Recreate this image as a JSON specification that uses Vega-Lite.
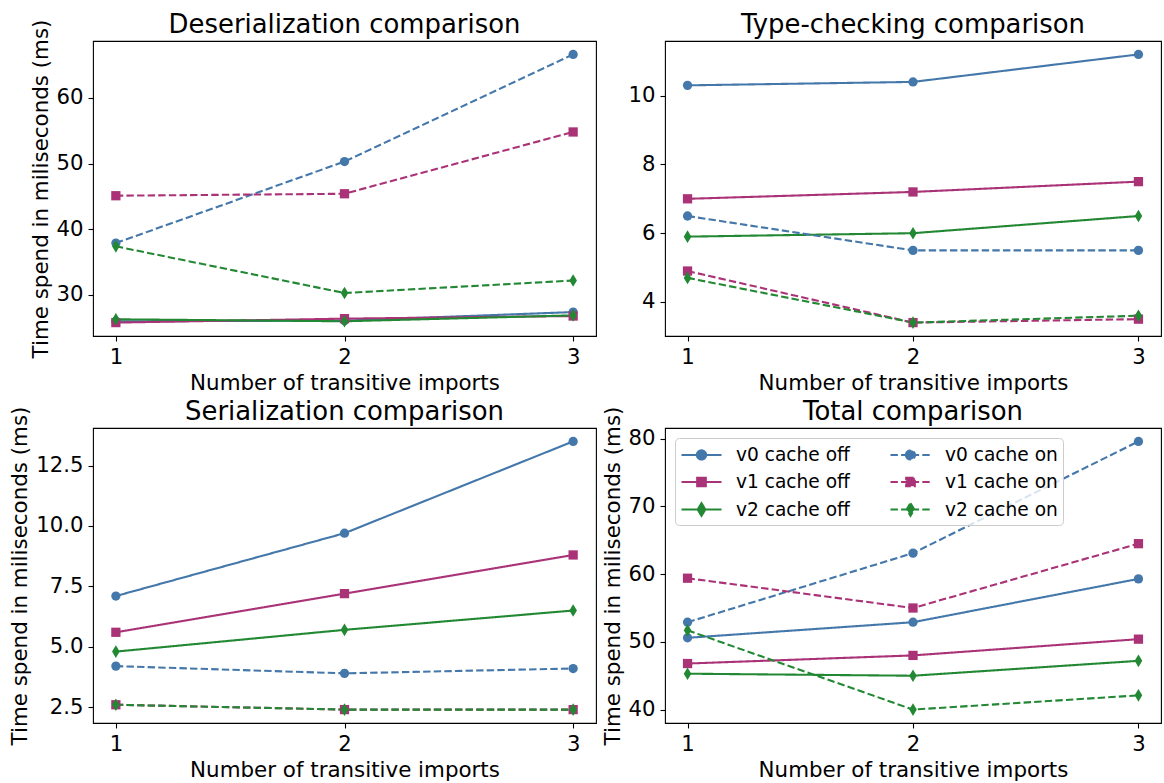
{
  "$schema": "https://vega.github.io/schema/vega-lite/v6.json",
  "padding": {"left": 9, "top": 11, "right": 0, "bottom": 0},
  "background": "white",
  "config": {
    "font": "DejaVu Sans",
    "view": {"stroke": "black", "strokeWidth": 1.1},
    "title": {"font": "DejaVu Sans", "fontSize": 25.9, "fontWeight": "normal", "color": "black", "baseline": "alphabetic", "anchor": "middle", "frame": "group"},
    "axis": {"labelFont": "DejaVu Sans", "titleFont": "DejaVu Sans", "labelFontSize": 21.2, "titleFontSize": 21.4, "labelColor": "black", "titleColor": "black", "titleFontWeight": "normal", "tickColor": "black", "tickSize": 5, "tickWidth": 1.1, "labelPadding": 5, "titlePadding": 5, "domain": false, "grid": false, "labelFlush": false},
    "legend": {"labelFont": "DejaVu Sans", "labelFontSize": 18.6, "labelColor": "black"}
  },
  "data": {"values": [
    {"panel": "Deserialization", "series": "v0 cache off", "imports": 1, "ms": 26.0},
    {"panel": "Deserialization", "series": "v0 cache off", "imports": 2, "ms": 26.1},
    {"panel": "Deserialization", "series": "v0 cache off", "imports": 3, "ms": 27.4},
    {"panel": "Deserialization", "series": "v1 cache off", "imports": 1, "ms": 25.8},
    {"panel": "Deserialization", "series": "v1 cache off", "imports": 2, "ms": 26.4},
    {"panel": "Deserialization", "series": "v1 cache off", "imports": 3, "ms": 26.8},
    {"panel": "Deserialization", "series": "v2 cache off", "imports": 1, "ms": 26.3},
    {"panel": "Deserialization", "series": "v2 cache off", "imports": 2, "ms": 26.0},
    {"panel": "Deserialization", "series": "v2 cache off", "imports": 3, "ms": 26.9},
    {"panel": "Deserialization", "series": "v0 cache on", "imports": 1, "ms": 37.9},
    {"panel": "Deserialization", "series": "v0 cache on", "imports": 2, "ms": 50.3},
    {"panel": "Deserialization", "series": "v0 cache on", "imports": 3, "ms": 66.6},
    {"panel": "Deserialization", "series": "v1 cache on", "imports": 1, "ms": 45.1},
    {"panel": "Deserialization", "series": "v1 cache on", "imports": 2, "ms": 45.4},
    {"panel": "Deserialization", "series": "v1 cache on", "imports": 3, "ms": 54.8},
    {"panel": "Deserialization", "series": "v2 cache on", "imports": 1, "ms": 37.4},
    {"panel": "Deserialization", "series": "v2 cache on", "imports": 2, "ms": 30.3},
    {"panel": "Deserialization", "series": "v2 cache on", "imports": 3, "ms": 32.2},

    {"panel": "Type-checking", "series": "v0 cache off", "imports": 1, "ms": 10.3},
    {"panel": "Type-checking", "series": "v0 cache off", "imports": 2, "ms": 10.4},
    {"panel": "Type-checking", "series": "v0 cache off", "imports": 3, "ms": 11.2},
    {"panel": "Type-checking", "series": "v1 cache off", "imports": 1, "ms": 7.0},
    {"panel": "Type-checking", "series": "v1 cache off", "imports": 2, "ms": 7.2},
    {"panel": "Type-checking", "series": "v1 cache off", "imports": 3, "ms": 7.5},
    {"panel": "Type-checking", "series": "v2 cache off", "imports": 1, "ms": 5.9},
    {"panel": "Type-checking", "series": "v2 cache off", "imports": 2, "ms": 6.0},
    {"panel": "Type-checking", "series": "v2 cache off", "imports": 3, "ms": 6.5},
    {"panel": "Type-checking", "series": "v0 cache on", "imports": 1, "ms": 6.5},
    {"panel": "Type-checking", "series": "v0 cache on", "imports": 2, "ms": 5.5},
    {"panel": "Type-checking", "series": "v0 cache on", "imports": 3, "ms": 5.5},
    {"panel": "Type-checking", "series": "v1 cache on", "imports": 1, "ms": 4.9},
    {"panel": "Type-checking", "series": "v1 cache on", "imports": 2, "ms": 3.4},
    {"panel": "Type-checking", "series": "v1 cache on", "imports": 3, "ms": 3.5},
    {"panel": "Type-checking", "series": "v2 cache on", "imports": 1, "ms": 4.7},
    {"panel": "Type-checking", "series": "v2 cache on", "imports": 2, "ms": 3.4},
    {"panel": "Type-checking", "series": "v2 cache on", "imports": 3, "ms": 3.6},

    {"panel": "Serialization", "series": "v0 cache off", "imports": 1, "ms": 7.1},
    {"panel": "Serialization", "series": "v0 cache off", "imports": 2, "ms": 9.7},
    {"panel": "Serialization", "series": "v0 cache off", "imports": 3, "ms": 13.5},
    {"panel": "Serialization", "series": "v1 cache off", "imports": 1, "ms": 5.6},
    {"panel": "Serialization", "series": "v1 cache off", "imports": 2, "ms": 7.2},
    {"panel": "Serialization", "series": "v1 cache off", "imports": 3, "ms": 8.8},
    {"panel": "Serialization", "series": "v2 cache off", "imports": 1, "ms": 4.8},
    {"panel": "Serialization", "series": "v2 cache off", "imports": 2, "ms": 5.7},
    {"panel": "Serialization", "series": "v2 cache off", "imports": 3, "ms": 6.5},
    {"panel": "Serialization", "series": "v0 cache on", "imports": 1, "ms": 4.2},
    {"panel": "Serialization", "series": "v0 cache on", "imports": 2, "ms": 3.9},
    {"panel": "Serialization", "series": "v0 cache on", "imports": 3, "ms": 4.1},
    {"panel": "Serialization", "series": "v1 cache on", "imports": 1, "ms": 2.6},
    {"panel": "Serialization", "series": "v1 cache on", "imports": 2, "ms": 2.4},
    {"panel": "Serialization", "series": "v1 cache on", "imports": 3, "ms": 2.4},
    {"panel": "Serialization", "series": "v2 cache on", "imports": 1, "ms": 2.6},
    {"panel": "Serialization", "series": "v2 cache on", "imports": 2, "ms": 2.4},
    {"panel": "Serialization", "series": "v2 cache on", "imports": 3, "ms": 2.4},

    {"panel": "Total", "series": "v0 cache off", "imports": 1, "ms": 50.6},
    {"panel": "Total", "series": "v0 cache off", "imports": 2, "ms": 52.9},
    {"panel": "Total", "series": "v0 cache off", "imports": 3, "ms": 59.3},
    {"panel": "Total", "series": "v1 cache off", "imports": 1, "ms": 46.8},
    {"panel": "Total", "series": "v1 cache off", "imports": 2, "ms": 48.0},
    {"panel": "Total", "series": "v1 cache off", "imports": 3, "ms": 50.4},
    {"panel": "Total", "series": "v2 cache off", "imports": 1, "ms": 45.3},
    {"panel": "Total", "series": "v2 cache off", "imports": 2, "ms": 45.0},
    {"panel": "Total", "series": "v2 cache off", "imports": 3, "ms": 47.2},
    {"panel": "Total", "series": "v0 cache on", "imports": 1, "ms": 52.9},
    {"panel": "Total", "series": "v0 cache on", "imports": 2, "ms": 63.1},
    {"panel": "Total", "series": "v0 cache on", "imports": 3, "ms": 79.6},
    {"panel": "Total", "series": "v1 cache on", "imports": 1, "ms": 59.4},
    {"panel": "Total", "series": "v1 cache on", "imports": 2, "ms": 55.0},
    {"panel": "Total", "series": "v1 cache on", "imports": 3, "ms": 64.5},
    {"panel": "Total", "series": "v2 cache on", "imports": 1, "ms": 51.7},
    {"panel": "Total", "series": "v2 cache on", "imports": 2, "ms": 40.0},
    {"panel": "Total", "series": "v2 cache on", "imports": 3, "ms": 42.1}
  ]},
  "columns": 2,
  "align": "each",
  "spacing": {"row": 3, "column": 4},
  "resolve": {"scale": {"x": "independent", "y": "independent", "color": "independent", "shape": "independent", "strokeDash": "independent"}, "legend": {"color": "independent", "shape": "independent", "strokeDash": "independent"}},
  "concat": [
    {
      "width": 503, "height": 295,
      "title": {"text": "Deserialization comparison", "offset": -20},
      "transform": [{"filter": "datum.panel === 'Deserialization'"}],
      "encoding": {
        "x": {"field": "imports", "type": "quantitative", "scale": {"domain": [0.9, 3.1], "nice": false, "zero": false}, "axis": {"values": [1, 2, 3], "format": "d", "title": "Number of transitive imports"}},
        "y": {"field": "ms", "type": "quantitative", "scale": {"domain": [23.76, 68.64], "nice": false, "zero": false}, "axis": {"values": [30, 40, 50, 60], "format": "d", "title": "Time spend in miliseconds (ms)"}},
        "color": {"field": "series", "type": "nominal", "scale": {"domain": ["v0 cache off", "v1 cache off", "v2 cache off", "v0 cache on", "v1 cache on", "v2 cache on"], "range": ["#4477AA", "#AA3377", "#228833", "#4477AA", "#AA3377", "#228833"]}, "legend": null}
      },
      "layer": [
        {"mark": {"type": "line", "strokeWidth": 2.1}, "encoding": {"strokeDash": {"field": "series", "type": "nominal", "scale": {"domain": ["v0 cache off", "v1 cache off", "v2 cache off", "v0 cache on", "v1 cache on", "v2 cache on"], "range": [[1, 0], [1, 0], [1, 0], [7.4, 3.2], [7.4, 3.2], [7.4, 3.2]]}, "legend": null}}},
        {"mark": {"type": "point", "filled": true, "opacity": 1, "size": 86}, "encoding": {"shape": {"field": "series", "type": "nominal", "scale": {"domain": ["v0 cache off", "v1 cache off", "v2 cache off", "v0 cache on", "v1 cache on", "v2 cache on"], "range": ["circle", "square", "M0,-1.36L0.82,0L0,1.36L-0.82,0Z", "circle", "square", "M0,-1.36L0.82,0L0,1.36L-0.82,0Z"]}, "legend": null}}}
      ]
    },
    {
      "width": 496, "height": 295,
      "title": {"text": "Type-checking comparison", "offset": 2.3},
      "transform": [{"filter": "datum.panel === 'Type-checking'"}],
      "encoding": {
        "x": {"field": "imports", "type": "quantitative", "scale": {"domain": [0.9, 3.1], "nice": false, "zero": false}, "axis": {"values": [1, 2, 3], "format": "d", "title": "Number of transitive imports"}},
        "y": {"field": "ms", "type": "quantitative", "scale": {"domain": [3.01, 11.59], "nice": false, "zero": false}, "axis": {"values": [4, 6, 8, 10], "format": "d", "title": null}},
        "color": {"field": "series", "type": "nominal", "scale": {"domain": ["v0 cache off", "v1 cache off", "v2 cache off", "v0 cache on", "v1 cache on", "v2 cache on"], "range": ["#4477AA", "#AA3377", "#228833", "#4477AA", "#AA3377", "#228833"]}, "legend": null}
      },
      "layer": [
        {"mark": {"type": "line", "strokeWidth": 2.1}, "encoding": {"strokeDash": {"field": "series", "type": "nominal", "scale": {"domain": ["v0 cache off", "v1 cache off", "v2 cache off", "v0 cache on", "v1 cache on", "v2 cache on"], "range": [[1, 0], [1, 0], [1, 0], [7.4, 3.2], [7.4, 3.2], [7.4, 3.2]]}, "legend": null}}},
        {"mark": {"type": "point", "filled": true, "opacity": 1, "size": 86}, "encoding": {"shape": {"field": "series", "type": "nominal", "scale": {"domain": ["v0 cache off", "v1 cache off", "v2 cache off", "v0 cache on", "v1 cache on", "v2 cache on"], "range": ["circle", "square", "M0,-1.36L0.82,0L0,1.36L-0.82,0Z", "circle", "square", "M0,-1.36L0.82,0L0,1.36L-0.82,0Z"]}, "legend": null}}}
      ]
    },
    {
      "width": 503, "height": 295,
      "title": {"text": "Serialization comparison", "offset": -20},
      "transform": [{"filter": "datum.panel === 'Serialization'"}],
      "encoding": {
        "x": {"field": "imports", "type": "quantitative", "scale": {"domain": [0.9, 3.1], "nice": false, "zero": false}, "axis": {"values": [1, 2, 3], "format": "d", "title": "Number of transitive imports"}},
        "y": {"field": "ms", "type": "quantitative", "scale": {"domain": [1.845, 14.055], "nice": false, "zero": false}, "axis": {"values": [2.5, 5, 7.5, 10, 12.5], "format": ".1f", "title": "Time spend in miliseconds (ms)"}},
        "color": {"field": "series", "type": "nominal", "scale": {"domain": ["v0 cache off", "v1 cache off", "v2 cache off", "v0 cache on", "v1 cache on", "v2 cache on"], "range": ["#4477AA", "#AA3377", "#228833", "#4477AA", "#AA3377", "#228833"]}, "legend": null}
      },
      "layer": [
        {"mark": {"type": "line", "strokeWidth": 2.1}, "encoding": {"strokeDash": {"field": "series", "type": "nominal", "scale": {"domain": ["v0 cache off", "v1 cache off", "v2 cache off", "v0 cache on", "v1 cache on", "v2 cache on"], "range": [[1, 0], [1, 0], [1, 0], [7.4, 3.2], [7.4, 3.2], [7.4, 3.2]]}, "legend": null}}},
        {"mark": {"type": "point", "filled": true, "opacity": 1, "size": 86}, "encoding": {"shape": {"field": "series", "type": "nominal", "scale": {"domain": ["v0 cache off", "v1 cache off", "v2 cache off", "v0 cache on", "v1 cache on", "v2 cache on"], "range": ["circle", "square", "M0,-1.36L0.82,0L0,1.36L-0.82,0Z", "circle", "square", "M0,-1.36L0.82,0L0,1.36L-0.82,0Z"]}, "legend": null}}}
      ]
    },
    {
      "width": 496, "height": 295,
      "title": {"text": "Total comparison", "offset": -20},
      "transform": [{"filter": "datum.panel === 'Total'"}],
      "encoding": {
        "x": {"field": "imports", "type": "quantitative", "scale": {"domain": [0.9, 3.1], "nice": false, "zero": false}, "axis": {"values": [1, 2, 3], "format": "d", "title": "Number of transitive imports"}},
        "y": {"field": "ms", "type": "quantitative", "scale": {"domain": [38.02, 81.58], "nice": false, "zero": false}, "axis": {"values": [40, 50, 60, 70, 80], "format": "d", "title": "Time spend in miliseconds (ms)"}}
      },
      "layer": [
        {"mark": {"type": "line", "strokeWidth": 2.1}, "encoding": {
          "color": {"field": "series", "type": "nominal", "scale": {"domain": ["v0 cache off", "v1 cache off", "v2 cache off", "v0 cache on", "v1 cache on", "v2 cache on"], "range": ["#4477AA", "#AA3377", "#228833", "#4477AA", "#AA3377", "#228833"]}, "legend": {
            "orient": "top-left", "offset": 10, "title": null, "columns": 2, "columnPadding": 36, "rowPadding": 5.5, "padding": 5, "symbolSize": 400, "labelOffset": 33, "labelFontSize": 18.6, "labelFont": "DejaVu Sans",
            "fillColor": "rgba(255,255,255,0.8)", "strokeColor": "#cccccc", "cornerRadius": 4,
            "encode": {"symbols": {"update": {
              "shape": {"signal": "indexof(datum.value,'v0')==0 ? 'M-1,0L3,0M0.54,0A0.46,0.46 0 1,0 1.46,0A0.46,0.46 0 1,0 0.54,0Z' : indexof(datum.value,'v1')==0 ? 'M-1,0L3,0M0.57,-0.43L1.43,-0.43L1.43,0.43L0.57,0.43Z' : 'M-1,0L3,0M1,-0.63L1.38,0L1,0.63L0.62,0Z'"},
              "fill": {"signal": "indexof(datum.value,'v0')==0 ? '#4477AA' : indexof(datum.value,'v1')==0 ? '#AA3377' : '#228833'"},
              "stroke": {"signal": "indexof(datum.value,'v0')==0 ? '#4477AA' : indexof(datum.value,'v1')==0 ? '#AA3377' : '#228833'"},
              "strokeWidth": {"value": 2.1},
              "strokeDash": {"signal": "indexof(datum.value,' on')>=0 ? [7.4,3.2] : [1,0]"},
              "opacity": {"value": 1}
            }}}
          }},
          "strokeDash": {"field": "series", "type": "nominal", "scale": {"domain": ["v2 cache on", "v1 cache on", "v0 cache on", "v2 cache off", "v1 cache off", "v0 cache off"], "range": [[7.4, 3.2], [7.4, 3.2], [7.4, 3.2], [1, 0], [1, 0], [1, 0]]}, "legend": null}}},
        {"mark": {"type": "point", "filled": true, "opacity": 1, "size": 86}, "encoding": {
          "color": {"field": "series", "type": "nominal", "scale": {"domain": ["v0 cache off", "v1 cache off", "v2 cache off", "v0 cache on", "v1 cache on", "v2 cache on"], "range": ["#4477AA", "#AA3377", "#228833", "#4477AA", "#AA3377", "#228833"]}, "legend": null},
          "shape": {"field": "series", "type": "nominal", "scale": {"domain": ["v2 cache on", "v1 cache on", "v0 cache on", "v2 cache off", "v1 cache off", "v0 cache off"], "range": ["M0,-1.36L0.82,0L0,1.36L-0.82,0Z", "square", "circle", "M0,-1.36L0.82,0L0,1.36L-0.82,0Z", "square", "circle"]}, "legend": null}}}
      ]
    }
  ]
}
